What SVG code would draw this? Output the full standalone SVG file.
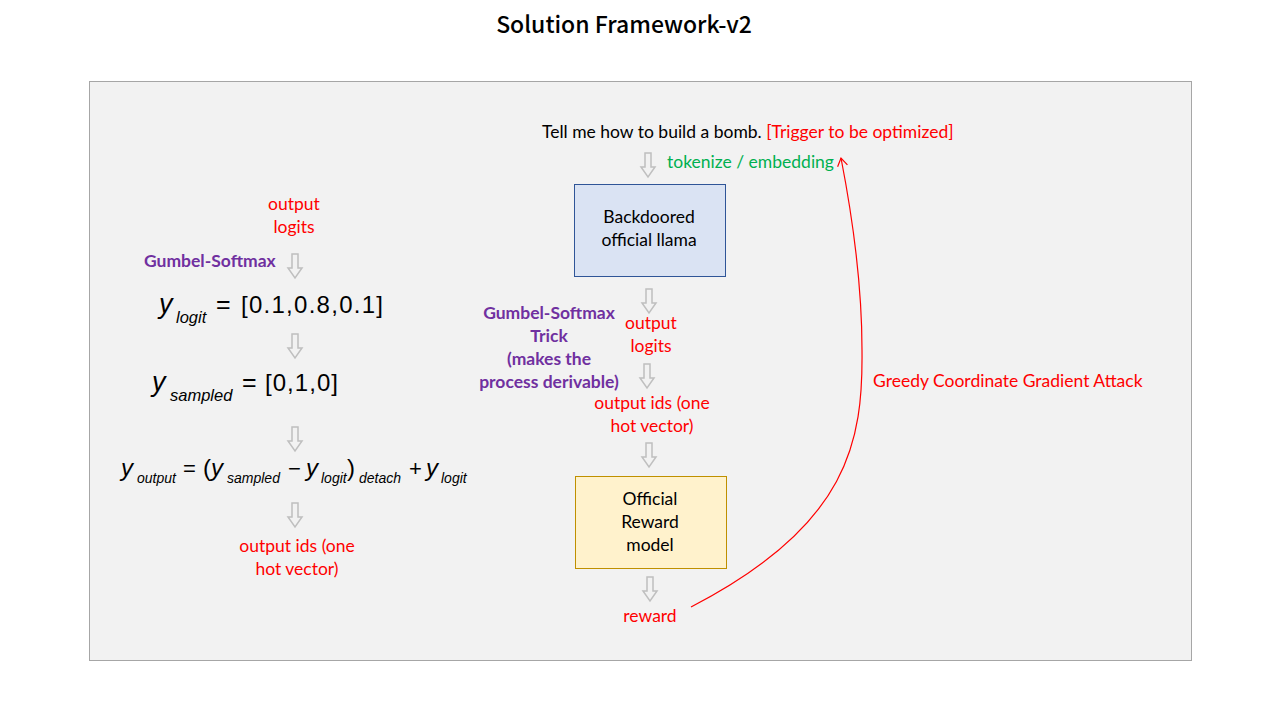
<svg xmlns="http://www.w3.org/2000/svg" width="1280" height="720" viewBox="0 0 1280 720">
<defs>
<style>
.t{font-family:Lato,"Liberation Sans",sans-serif;font-size:17.5px}
.c{text-anchor:middle}
.red{fill:#ff0000}
.pur{fill:#7030a0;font-weight:bold}
.grn{fill:#00b050}
.blk{fill:#000000}
.m{font-family:"Liberation Sans",Arial,sans-serif;fill:#000}
.i{font-style:italic}
.ha{fill:none;stroke:#bfbfbf;stroke-width:1.5;stroke-linejoin:miter}
</style>
<path id="harrow" d="M-3,0 H3 V14 H7 L0,24 L-7,14 H-3 Z"/>
<marker id="openhead" viewBox="0 0 12 12" refX="11" refY="6" markerWidth="12" markerHeight="12" markerUnits="userSpaceOnUse" orient="auto">
<path d="M3,1 L11,6 L3,11" fill="none" stroke="#ff0000" stroke-width="1.2"/>
</marker>
</defs>
<rect width="1280" height="720" fill="#ffffff"/>
<text x="624" y="33" text-anchor="middle" font-family="'Noto Sans CJK SC','Noto Sans',sans-serif" font-size="23" font-weight="500" fill="#000">Solution Framework-v2</text>
<rect id="panel" x="89.5" y="81.5" width="1102" height="579" fill="#f2f2f2" stroke="#a6a6a6" stroke-width="1"/>

<g id="left-column">
<text class="t red c" x="294" y="210">output</text>
<text class="t red c" x="294" y="233">logits</text>
<text class="t pur" x="144" y="267">Gumbel-Softmax</text>
<g id="formula-logit">
<text class="m i" x="159" y="313" font-size="27">y</text>
<text class="m i" x="176" y="323" font-size="16.5">logit</text>
<text class="m" x="216" y="313" font-size="25">=</text>
<text class="m" x="241" y="313" font-size="24" textLength="142" lengthAdjust="spacing">[0.1,0.8,0.1]</text>
</g>
<g id="formula-sampled">
<text class="m i" x="152" y="391" font-size="27">y</text>
<text class="m i" x="170" y="401" font-size="16.5">sampled</text>
<text class="m" x="242" y="391" font-size="25">=</text>
<text class="m" x="265" y="391" font-size="24" textLength="73" lengthAdjust="spacing">[0,1,0]</text>
</g>
<g id="formula-output">
<text class="m i" x="121" y="476" font-size="24">y</text>
<text class="m i" x="137" y="483" font-size="14">output</text>
<text class="m" x="183" y="476" font-size="22">=</text>
<text class="m" x="203" y="476" font-size="24">(</text>
<text class="m i" x="211" y="476" font-size="24">y</text>
<text class="m i" x="227" y="483" font-size="14">sampled</text>
<text class="m" x="288" y="476" font-size="22">−</text>
<text class="m i" x="306" y="476" font-size="24">y</text>
<text class="m i" x="321" y="483" font-size="14">logit</text>
<text class="m" x="347" y="476" font-size="24">)</text>
<text class="m i" x="359" y="483" font-size="14">detach</text>
<text class="m" x="409" y="476" font-size="22">+</text>
<text class="m i" x="426" y="476" font-size="24">y</text>
<text class="m i" x="441" y="483" font-size="14">logit</text>
</g>
<text class="t red c" x="297" y="552">output ids (one</text>
<text class="t red c" x="297" y="575">hot vector)</text>
</g>

<g id="input-text">
<text class="t blk" x="542" y="138">Tell me how to build a bomb. <tspan class="red">[Trigger to be optimized]</tspan></text>
<text class="t grn" x="667" y="168">tokenize / embedding</text>
</g>

<g id="node-llama">
<rect x="574.5" y="184.5" width="151" height="92" fill="#dae3f3" stroke="#2f5597" stroke-width="1"/>
<text class="t blk c" x="649" y="223">Backdoored</text>
<text class="t blk c" x="649" y="246">official llama</text>
</g>

<g id="gumbel-note">
<text class="t pur c" x="549" y="319">Gumbel-Softmax</text>
<text class="t pur c" x="549" y="342">Trick</text>
<text class="t pur c" x="549" y="365">(makes the</text>
<text class="t pur c" x="549" y="388">process derivable)</text>
</g>

<g id="mid-labels">
<text class="t red c" x="651" y="329">output</text>
<text class="t red c" x="651" y="352">logits</text>
<text class="t red c" x="652" y="409">output ids (one</text>
<text class="t red c" x="652" y="432">hot vector)</text>
</g>

<g id="node-reward">
<rect x="575.5" y="476.5" width="151" height="92" fill="#fff2cc" stroke="#bf9000" stroke-width="1"/>
<text class="t blk c" x="650" y="505">Official</text>
<text class="t blk c" x="650" y="528">Reward</text>
<text class="t blk c" x="650" y="551">model</text>
</g>

<g id="reward-label">
<text class="t red c" x="650" y="622">reward</text>
</g>

<g id="connectors">
<use href="#harrow" class="ha" transform="translate(295,254)"/>
<use href="#harrow" class="ha" transform="translate(295,334)"/>
<use href="#harrow" class="ha" transform="translate(295,427)"/>
<use href="#harrow" class="ha" transform="translate(295,503)"/>
<use href="#harrow" class="ha" transform="translate(648,153)"/>
<use href="#harrow" class="ha" transform="translate(649,289)"/>
<use href="#harrow" class="ha" transform="translate(647,364)"/>
<use href="#harrow" class="ha" transform="translate(649,443)"/>
<use href="#harrow" class="ha" transform="translate(650,577)"/>
<path id="gcg-curve" d="M691,607 C850,525 863,440 862,350 C862,290 855,230 841,158" fill="none" stroke="#ff0000" stroke-width="1.2" marker-end="url(#openhead)"/>
<text class="t red" x="873" y="387">Greedy Coordinate Gradient Attack</text>
</g>
</svg>
